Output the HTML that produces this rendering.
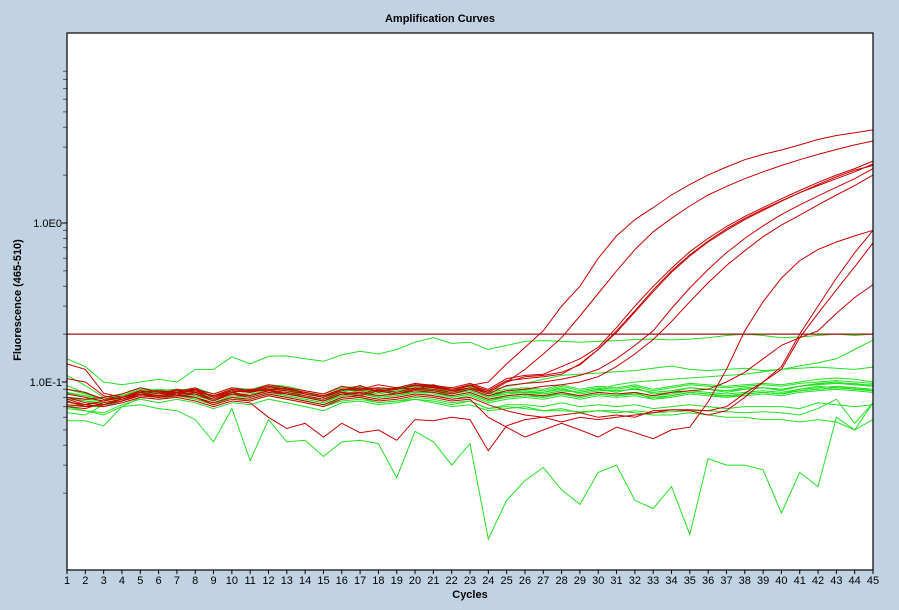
<!DOCTYPE html>
<html><head><meta charset="utf-8"><style>
html,body{margin:0;padding:0;background:#c1d3e3;}
svg{display:block;font-family:"Liberation Sans",Arial,sans-serif;}
</style></head><body>
<svg id="chart" width="899" height="610" viewBox="0 0 899 610" xmlns="http://www.w3.org/2000/svg">
<rect x="0" y="0" width="899" height="610" fill="#c1d3e3"/>
<text x="440" y="22" text-anchor="middle" font-size="11" font-weight="bold">Amplification Curves</text>
<rect x="67" y="33" width="806" height="537" fill="#ffffff"/>
<g id="curves"></g>
<g id="axes"></g>
<rect x="67" y="33" width="806" height="537" fill="none" stroke="#000" stroke-width="1.2"/>
<text x="470" y="598" text-anchor="middle" font-size="11" font-weight="bold">Cycles</text>
<text transform="translate(21,300) rotate(-90)" text-anchor="middle" font-size="11" font-weight="bold">Fluorescence (465-510)</text>
</svg>
<script>
const cycles = [];
for (let c = 1; c <= 45; c++) cycles.push(c);
const threshold = 0.2;
const yMajorTicks = [1, 0.1];
const yMajorLabels = ["1.0E0", "1.0E-1"];
const yMinorTicks = [9,8,7,6,5,4,3,2,0.9,0.8,0.7,0.6,0.5,0.4,0.3,0.2,0.09,0.08,0.07,0.06,0.05,0.04,0.03,0.02];

// red (positive) series, values x1000
const redA = [130,120,85,80,88, 84,90,86,82,90, 87,94,90,86,82, 90,92,88,90,95, 93,90,95,100,130, 165,210,300,400,600, 830,1050,1250,1500,1750, 2000,2250,2500,2700,2880, 3100,3350,3550,3700,3850];
const redB = [105,100,82,78,86, 88,84,90,80,86, 90,88,92,84,80, 88,95,86,92,90, 96,88,92,86,100, 120,150,190,260,360, 500,680,880,1070,1280, 1500,1700,1900,2100,2300, 2500,2700,2900,3100,3280];
const redC1 = [80,78,80,84,92, 86,88,90,84,92, 88,96,92,88,84, 94,90,96,92,98, 95,92,98,90,105, 110,112,125,140,165, 220,300,400,520,660, 800,950,1100,1250,1420, 1600,1800,2000,2200,2450];
const redC2 = [75,72,76,80,88, 84,86,92,80,88, 86,90,88,84,80, 90,88,92,90,95, 92,88,95,86,100, 108,110,115,128,160, 210,280,380,500,630, 770,920,1070,1220,1380, 1550,1720,1900,2100,2350];
const redC3 = [70,68,74,78,84, 82,84,86,78,86, 82,88,86,82,78, 86,84,90,86,92, 90,86,92,84,95, 98,100,104,110,120, 140,170,210,290,390, 510,650,800,960,1130, 1300,1480,1680,1900,2200];
const redC4 = [72,70,72,76,82, 80,82,84,76,84, 80,86,84,80,76, 84,82,88,84,90, 88,84,90,82,88, 90,94,96,100,108, 125,150,185,240,320, 420,540,670,820,970, 1120,1300,1500,1720,2000];
const redC5 = [90,86,78,80,86, 88,86,88,82,88, 86,92,90,86,82, 90,90,92,90,96, 94,90,96,88,102, 105,108,112,130,160, 205,275,370,490,620, 760,900,1050,1200,1370, 1550,1750,1950,2150,2300];
const redG = [80,74,72,76,84, 80,82,80,72,78, 76,82,78,74,70, 78,80,76,78,82, 80,76,78,60,52, 45,50,55,50,45, 52,48,44,50,52, 75,120,210,320,450, 580,680,760,830,900];
const redH = [78,72,70,74,80, 78,80,76,70,76, 74,60,51,55,45, 55,48,50,43,58, 57,60,58,37,53, 58,60,56,60,58, 60,62,64,67,67, 66,70,85,100,125, 200,300,450,650,900];
const redI = [76,70,72,78,84, 80,84,80,74,80, 78,84,80,76,72, 80,82,78,80,84, 82,78,80,72,66, 62,60,62,64,60, 62,60,66,67,66, 62,66,80,100,120, 190,270,380,530,750];
const redJ = [84,80,76,80,86, 82,86,84,78,84, 82,88,84,80,76, 84,86,82,84,88, 86,82,86,78,82, 84,82,86,82,86, 84,86,82,86,88, 90,100,115,140,170, 190,210,270,340,410];

// green (negative) series, values x1000
const green1 = [140,125,100,96,100, 104,100,120,120,144, 130,145,146,140,135, 148,156,150,160,178, 190,175,178,160,170, 180,182,180,178,180, 182,185,186,184,186, 190,196,200,196,190, 192,196,200,196,200];
const green2 = [70,66,62,70,72, 68,66,58,42,68, 32,58,42,43,34, 42,43,41,25,49, 42,30,41,10.3,18, 24,29,21,17,27, 30,18,16,22,11, 33,30,30,28,15, 27,22,60,50,74];
const green3 = [80,78,76,80,86, 84,86,82,78,84, 84,88,86,80,78, 84,88,82,86,90, 88,84,88,80,84, 86,84,88,86,90, 96,100,102,104,106, 108,110,112,116,120, 126,132,140,160,184];
const green4 = [85,82,78,82,88, 86,90,86,80,88, 86,92,90,84,82, 90,92,88,92,96, 94,90,96,88,94, 98,104,110,112,114, 116,118,122,126,120, 118,120,122,118,120, 122,124,122,120,124];
const green5 = [57,57,53,70,80, 78,82,80,74,82, 80,86,82,78,74, 82,84,80,82,86, 86,80,84,76,80, 82,80,84,80,84, 82,84,80,82,86, 84,82,84,86,84, 88,90,92,90,88];
const green6 = [86,82,78,82,90, 86,90,86,80,88, 86,92,88,84,80, 88,90,86,88,92, 92,86,90,82,86, 88,86,90,86,90, 88,90,86,88,92, 90,88,90,92,90, 94,97,98,96,94];
const green7 = [78,76,74,78,84, 82,84,80,74,82, 80,86,82,78,74, 82,84,80,82,86, 86,80,84,76,80, 82,80,84,80,84, 82,84,80,82,86, 84,82,84,86,84, 88,90,92,90,88];
const green8 = [95,85,78,80,86, 88,86,88,82,90, 88,94,92,86,82, 90,92,88,90,94, 94,88,92,84,88, 90,88,94,88,92, 90,94,88,92,96, 94,92,94,96,94, 98,100,102,100,98];
const green9 = [70,72,74,78,82, 80,84,78,72,80, 78,84,80,76,72, 80,82,78,80,84, 84,78,82,74,78, 80,78,82,78,82, 80,82,78,80,84, 82,80,82,84,82, 86,88,90,88,86];
const green10 = [110,95,80,82,88, 90,88,92,84,92, 90,96,94,88,84, 92,94,90,92,96, 96,90,94,86,90, 92,90,96,90,94, 92,96,90,94,98, 96,94,96,98,96, 100,104,106,104,100];
const green11 = [64,62,72,76,84, 80,86,82,76,84, 82,88,84,80,76, 84,86,82,84,88, 88,82,86,78,82, 84,82,86,82,86, 84,86,82,84,88, 86,84,86,88,86, 90,92,94,92,90];
const green12 = [80,78,76,84,92, 88,90,88,80,86, 88,88,90,84,82, 86,92,86,90,92, 88,86,92,80,86, 88,84,88,86,90, 86,92,84,86,92, 90,86,90,92,88, 94,96,98,98,94];
const green13 = [90,84,78,78,84, 86,82,86,78,84, 84,88,86,80,76, 82,86,80,82,88, 86,80,84,76,82, 84,80,86,80,84, 82,86,78,82,86, 84,80,84,86,84, 90,94,92,92,88];
const green14 = [75,70,72,80,86, 84,88,84,76,86, 82,90,88,82,78, 88,88,84,88,90, 90,84,90,82,86, 86,86,92,84,88, 88,90,86,88,92, 90,88,92,92,90, 94,98,100,96,96];
const green15 = [68,66,64,72,78, 74,78,74,68,74, 72,78,74,70,66, 74,76,72,74,78, 76,72,76,68,72, 72,70,74,70,72, 70,72,68,70,72, 70,68,70,70,70, 68,74,72,70,72];
const green16 = [72,70,70,76,82, 80,82,78,72,80, 76,82,78,74,70, 76,78,74,76,80, 78,74,76,68,70, 68,66,66,65,66, 64,66,64,65,66, 66,65,64,65,64, 62,68,78,55,74];
const green17 = [80,76,72,78,84, 80,84,80,74,80, 78,84,80,76,72, 78,80,74,76,78, 74,70,72,66,68, 70,66,68,64,66, 66,64,62,62,64, 62,60,60,58,58, 56,58,56,50,58];

const redSeries = [redA, redB, redC1, redC2, redC3, redC4, redC5, redG, redH, redI, redJ];
const greenSeries = [green1, green2, green3, green4, green5, green6, green7, green8, green9, green10, green11, green12, green13, green14, green15, green16, green17];

const NS = "http://www.w3.org/2000/svg";
const X0 = 67, X1 = 873, Y0 = 33, Y1 = 570;
function xScale(c) { return X0 + (c - 1) * (X1 - X0) / 44; }
function yScale(v) { return 223 - 159 * Math.log10(v); }

const curves = document.getElementById('curves');
const axes = document.getElementById('axes');

function drawSeries(arr, color, name) {
  const pts = arr.map((v, i) => xScale(cycles[i]).toFixed(1) + ',' + yScale(v / 1000).toFixed(1)).join(' ');
  const pl = document.createElementNS(NS, 'polyline');
  pl.setAttribute('points', pts);
  pl.setAttribute('fill', 'none');
  pl.setAttribute('stroke', color);
  pl.setAttribute('stroke-width', '1');
  
  
  curves.appendChild(pl);
}
greenSeries.forEach((s, i) => drawSeries(s, '#22e022', 'negative-curve-' + (i + 1)));
redSeries.forEach((s, i) => drawSeries(s, '#c80000', 'positive-curve-' + (i + 1)));

const th = document.createElementNS(NS, 'line');
th.setAttribute('x1', X0); th.setAttribute('x2', X1);
th.setAttribute('y1', yScale(threshold)); th.setAttribute('y2', yScale(threshold));
th.setAttribute('stroke', '#a01010'); th.setAttribute('stroke-width', '1.2');


curves.appendChild(th);

cycles.forEach(c => {
  const x = xScale(c);
  const t = document.createElementNS(NS, 'line');
  t.setAttribute('x1', x); t.setAttribute('x2', x);
  t.setAttribute('y1', Y1); t.setAttribute('y2', Y1 + 4);
  t.setAttribute('stroke', '#000');
  
  
  axes.appendChild(t);
  const lb = document.createElementNS(NS, 'text');
  lb.setAttribute('x', x); lb.setAttribute('y', 584);
  lb.setAttribute('text-anchor', 'middle');
  lb.setAttribute('font-size', '11');
  lb.textContent = c;
  
  
  axes.appendChild(lb);
});
yMinorTicks.forEach(v => {
  const y = yScale(v);
  const t = document.createElementNS(NS, 'line');
  t.setAttribute('x1', X0 - 4); t.setAttribute('x2', X0);
  t.setAttribute('y1', y); t.setAttribute('y2', y);
  t.setAttribute('stroke', '#555');
  
  
  axes.appendChild(t);
});
yMajorTicks.forEach((v, i) => {
  const y = yScale(v);
  const t = document.createElementNS(NS, 'line');
  t.setAttribute('x1', X0 - 5); t.setAttribute('x2', X0);
  t.setAttribute('y1', y); t.setAttribute('y2', y);
  t.setAttribute('stroke', '#000');
  
  
  axes.appendChild(t);
  const lb = document.createElementNS(NS, 'text');
  lb.setAttribute('x', X0 - 5); lb.setAttribute('y', y + 4);
  lb.setAttribute('text-anchor', 'end');
  lb.setAttribute('font-size', '11');
  lb.textContent = yMajorLabels[i];
  
  
  axes.appendChild(lb);
});
</script>
</body></html>
